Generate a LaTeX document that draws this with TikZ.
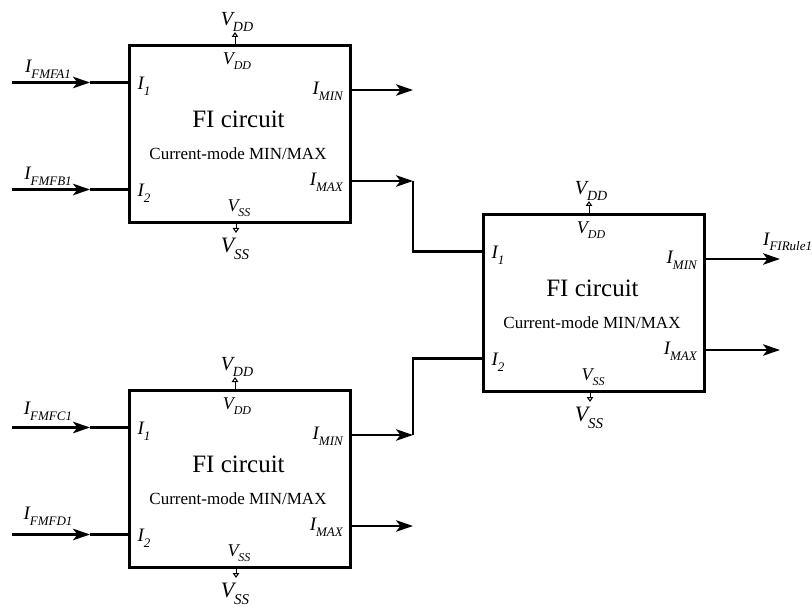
\documentclass[tikz,border=0pt]{standalone}
\usepackage{fontspec}
\setmainfont{Liberation Serif}
\usetikzlibrary{arrows.meta,calc}
\newcommand{\sig}[4]{{\fontsize{#1}{#1}\selectfont\itshape #3\raisebox{-0.3em}{\fontsize{#2}{#2}\selectfont #4}}}
\tikzset{
  fibox/.style={draw, line width=3.4pt, minimum width=221pt, minimum height=177pt, anchor=north west, inner sep=0pt},
  txt/.style={inner sep=0pt},
  wire/.style={line width=2.4pt},
  vwire/.style={line width=2.2pt},
  arr/.style={-{Stealth[length=17pt,width=11.5pt,inset=4.5pt]}},
  supply/.style={line width=1pt,-{Triangle[open,length=5pt,width=6.5pt]}},
  fiblock/.pic={
    \node[fibox] (-box) at (0,0) {};
    \node[txt] (-title) at (110.5,75) {\fontsize{25}{25}\selectfont FI circuit};
    \node[txt] (-mode) at (110,110) {\fontsize{17}{17}\selectfont Current-mode MIN/MAX};
    \node[txt] (-vddin) at (109,17) {\sig{18}{12}{V}{DD}};
    \node[txt] (-vssin) at (111,164) {\sig{18}{12}{V}{SS}};
    \node[txt] (-vddout) at (109,-22) {\sig{20}{14}{V}{DD}};
    \node[txt] (-vssout) at (107,205) {\sig{22}{15}{V}{SS}};
    \node[txt] (-l1) at (16,42.5) {\sig{19}{13}{I}{1}};
    \node[txt] (-l2) at (16,149) {\sig{19}{13}{I}{2}};
    \node[txt,anchor=east] (-lmin) at (215,47) {\sig{19}{13}{I}{MIN}};
    \node[txt,anchor=east] (-lmax) at (215,138) {\sig{19}{13}{I}{MAX}};
    \coordinate (-i1) at (0,38.5);
    \coordinate (-i2) at (0,145.5);
    \coordinate (-min) at (221,46);
    \coordinate (-max) at (221,137);
    \coordinate (-top) at (107,0);
    \coordinate (-tt) at (107,-12);
    \coordinate (-bot) at (108,177);
    \coordinate (-bb) at (108,189);
    \draw[supply] (-top) -- (-tt);
    \draw[supply] (-bot) -- (-bb);
  }
}
\begin{document}
\begin{tikzpicture}[x=1pt,y=-1pt]
\useasboundingbox (0,0) rectangle (812,607);
\pic (b1) at (128,44) {fiblock};
\pic (b2) at (482,213) {fiblock};
\pic (b3) at (128,389) {fiblock};

\coordinate (colx) at (413,0);
\coordinate (outx) at (780,0);
\coordinate (inx) at (12,0);
\coordinate (midx) at (90,0);

% inputs
\node[txt] (la) at (48,69) {\sig{19}{13}{I}{FMFA1}};
\node[txt] (lb) at (48,176) {\sig{19}{13}{I}{FMFB1}};
\node[txt] (lc) at (48,411.5) {\sig{19}{13}{I}{FMFC1}};
\node[txt] (ld) at (48,516) {\sig{19}{13}{I}{FMFD1}};
\foreach \b/\p in {b1/i1,b1/i2,b3/i1,b3/i2}{
  \draw[wire,arr] (\b-\p -| inx) -- (\b-\p -| midx);
  \draw[wire] (\b-\p -| midx) -- (\b-\p);
}

% outputs of left blocks
\draw[wire,arr] (b1-min) -- (b1-min -| colx);
\draw[wire,arr] (b1-max) -- (b1-max -| colx);
\draw[wire,arr] (b3-min) -- (b3-min -| colx);
\draw[wire,arr] (b3-max) -- (b3-max -| colx);
\draw[vwire] (b1-max -| colx) |- (b2-i1);
\draw[vwire] (b3-min -| colx) |- (b2-i2);

% outputs of right block
\draw[wire,arr] (b2-min) -- (b2-min -| outx);
\draw[wire,arr] (b2-max) -- (b2-max -| outx);
\node[txt,anchor=west] (lr) at (763,242) {\sig{19}{13}{I}{FIRule1}};
\end{tikzpicture}
\end{document}
